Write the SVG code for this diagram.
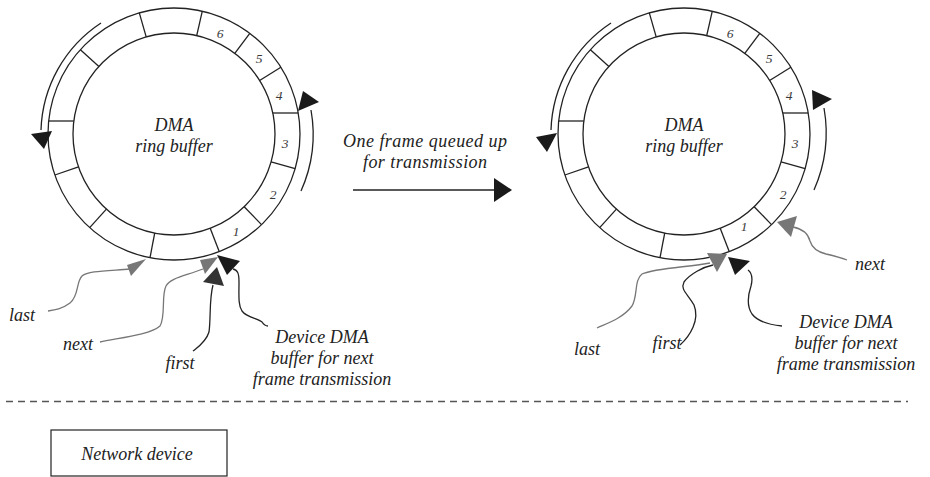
<svg xmlns="http://www.w3.org/2000/svg" xmlns:xlink="http://www.w3.org/1999/xlink" width="930" height="477" viewBox="0 0 930 477">
<style>
  .ring { fill: none; stroke: #222; stroke-width: 1.3; }
  .tick { stroke: #222; stroke-width: 1.3; }
  .t { font-family: "Liberation Serif", "Times New Roman", serif; font-style: italic; fill: #222; }
  .big { font-size: 18px; }
  .num { font-size: 13.5px; fill: #3a3a3a; }
  .arc { fill: none; stroke: #222; stroke-width: 1.3; }
  .gl { fill: none; stroke: #777; stroke-width: 1.3; }
  .dl { fill: none; stroke: #222; stroke-width: 1.3; }
  .gt { fill: #777; }
  .dt { fill: #333; }
  .bt { fill: #1a1a1a; }
</style>
<defs>
  <g id="ringshape">
    <circle class="ring" cx="174" cy="134" r="126"/>
    <circle class="ring" cx="174" cy="134" r="101"/>
    <g class="tick">
      <line x1="146.2" y1="36.9" x2="139.3" y2="12.9"/>
      <line x1="196.7" y1="35.6" x2="202.3" y2="11.2"/>
      <line x1="234.8" y1="53.3" x2="249.8" y2="33.4"/>
      <line x1="259.6" y1="80.5" x2="280.9" y2="67.2"/>
      <line x1="272.8" y1="113" x2="298.2" y2="113"/>
      <line x1="271.1" y1="161.8" x2="295.1" y2="168.7"/>
      <line x1="244.2" y1="206.7" x2="261.5" y2="224.6"/>
      <line x1="210.2" y1="228.3" x2="219.2" y2="251.6"/>
      <line x1="154.7" y1="233.1" x2="150.0" y2="257.7"/>
      <line x1="106.4" y1="209.1" x2="89.7" y2="227.6"/>
      <line x1="78.5" y1="166.9" x2="54.9" y2="175.0"/>
      <line x1="73.8" y1="121" x2="48.7" y2="121"/>
      <line x1="98.9" y1="66.4" x2="80.4" y2="49.7"/>
    </g>
    <text class="t big" x="174" y="131" text-anchor="middle">DMA</text>
    <text class="t big" x="174" y="152" text-anchor="middle">ring buffer</text>
    <g class="t num" text-anchor="middle">
      <text x="220" y="38">6</text>
      <text x="259" y="63">5</text>
      <text x="279" y="100">4</text>
      <text x="285" y="148">3</text>
      <text x="273" y="199">2</text>
    </g>
  </g>
</defs>

<g id="ring-before">
  <use xlink:href="#ringshape"/>
  <text class="t num" x="236" y="236" text-anchor="middle">1</text>
  <path class="arc" d="M101,23 A133,133 0 0 0 41,130"/>
  <polygon class="bt" points="31,134 52,131 44,149"/>
  <path class="arc" d="M311,110 A139,139 0 0 1 301,191"/>
  <polygon class="bt" points="303,91 319,102 298,111"/>
</g>

<g id="ring-after">
  <use xlink:href="#ringshape" transform="translate(510,0)"/>
  <text class="t num" x="744" y="231" text-anchor="middle">1</text>
  <path class="arc" d="M611,23 A133,133 0 0 0 551,130"/>
  <polygon class="bt" points="536,137 557,133 547,152"/>
  <path class="arc" d="M824,108 A142,142 0 0 1 814,190"/>
  <polygon class="bt" points="812,90 832,99 813,110"/>
</g>

<g id="connectors">
  <!-- middle transition arrow -->
  <line class="dl" x1="353" y1="190" x2="496" y2="190"/>
  <polygon class="bt" points="494,178 512,190 494,202"/>

  <!-- left pointers -->
  <path class="gl" d="M130,269 C105,271 88,271 82,276 C76,282 79,296 70,303 C62,309 55,310 48,311"/>
  <polygon class="gt" points="146,259 127,265 131,276"/>
  <path class="gl" d="M203,269 C185,276 170,278 166,286 C161,296 166,316 160,326 C150,335 118,338 100,342"/>
  <polygon class="gt" points="218,257 200,260 205,274"/>
  <path class="dl" d="M213,285 C209,300 211,318 209,332 C206,342 198,347 193,351"/>
  <polygon class="dt" points="217,267 203,282 224,286"/>
  <path class="dl" d="M233,269 C238,270 239,274 239,282 C239,295 238,305 242,311 C247,318 258,318 262,322 C264,325 266,326 268,326"/>
  <polygon class="bt" points="217,255 240,261 227,275"/>

  <!-- right pointers -->
  <path class="gl" d="M793,227 C803,229 808,233 810,241 C812,248 818,252 826,254 C835,256 842,258 847,260"/>
  <polygon class="gt" points="777,222 797,216 791,237"/>
  <path class="gl" d="M710,263 C690,267 655,268 642,274 C634,280 638,296 632,306 C623,318 608,323 597,328"/>
  <path class="dl" d="M680,345 C690,336 700,320 694,305 C688,294 680,290 684,282 C690,274 703,267 713,265"/>
  <polygon class="gt" points="707,253 727,254 717,272"/>
  <path class="dl" d="M748,270 C752,273 753,278 751,286 C748,295 746,305 752,314 C758,322 772,325 782,326"/>
  <polygon class="bt" points="728,257 750,261 735,275"/>
</g>

<g id="labels">
  <text class="t big" x="425" y="147" text-anchor="middle" textLength="164" lengthAdjust="spacing">One frame queued up</text>
  <text class="t big" x="425" y="168" text-anchor="middle" textLength="124" lengthAdjust="spacing">for transmission</text>

  <text class="t big" x="22" y="321" text-anchor="middle">last</text>
  <text class="t big" x="78" y="350" text-anchor="middle">next</text>
  <text class="t big" x="180" y="369" text-anchor="middle">first</text>
  <text class="t big" x="322" y="343" text-anchor="middle">Device DMA</text>
  <text class="t big" x="322" y="364" text-anchor="middle">buffer for next</text>
  <text class="t big" x="322" y="385" text-anchor="middle">frame transmission</text>

  <text class="t big" x="870" y="270" text-anchor="middle">next</text>
  <text class="t big" x="587" y="355" text-anchor="middle">last</text>
  <text class="t big" x="667" y="349" text-anchor="middle">first</text>
  <text class="t big" x="846" y="328" text-anchor="middle">Device DMA</text>
  <text class="t big" x="846" y="349" text-anchor="middle">buffer for next</text>
  <text class="t big" x="846" y="370" text-anchor="middle">frame transmission</text>
</g>

<line x1="6" y1="401.5" x2="908" y2="401.5" stroke="#555" stroke-width="1.5" stroke-dasharray="7 5"/>

<g id="network-device">
  <rect x="51" y="430" width="176" height="46" fill="none" stroke="#222" stroke-width="1.2"/>
  <text class="t big" x="137" y="460" text-anchor="middle">Network device</text>
</g>
</svg>
